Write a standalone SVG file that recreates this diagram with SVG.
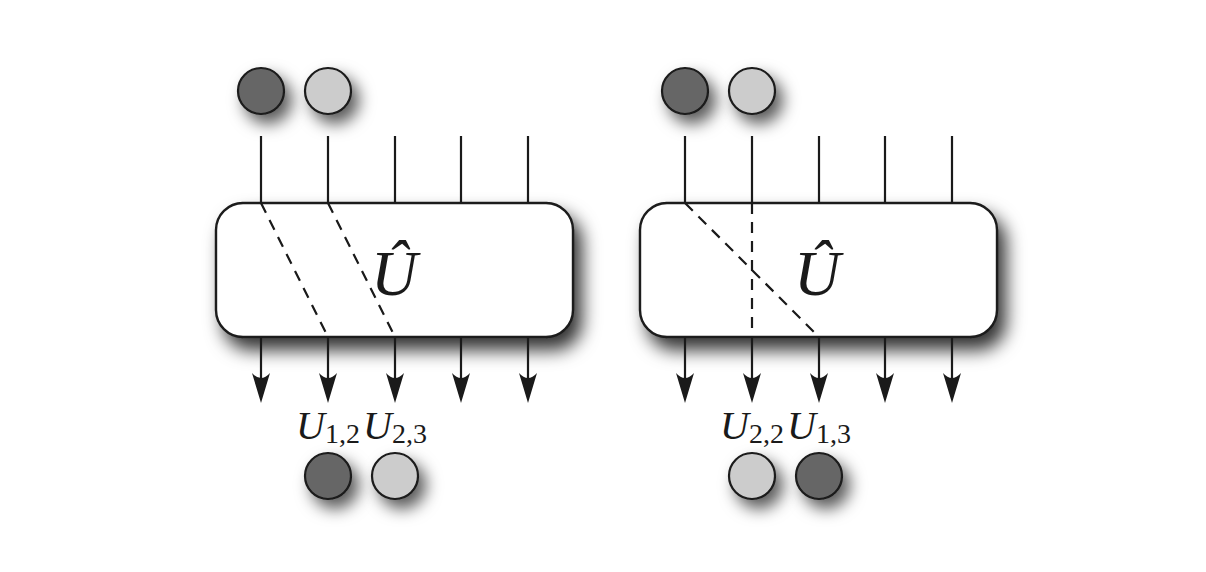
<svg xmlns="http://www.w3.org/2000/svg" width="1206" height="572" viewBox="0 0 1206 572">
<style>
.wire{stroke:#1a1a1a;stroke-width:2.2;fill:none}
.dash{stroke:#1a1a1a;stroke-width:2.2;fill:none;stroke-dasharray:11 8}
.box{fill:#ffffff;stroke:#1a1a1a;stroke-width:2.4;filter:url(#sh)}
.dark{fill:#666666;stroke:#1a1a1a;stroke-width:2.2;filter:url(#shc)}
.light{fill:#cccccc;stroke:#1a1a1a;stroke-width:2.2;filter:url(#shc)}
.big{font-family:"Liberation Serif","DejaVu Serif",serif;font-style:italic;font-size:64px;fill:#1a1a1a;text-anchor:middle}
.lab{font-family:"Liberation Serif","DejaVu Serif",serif;font-size:40px;fill:#1a1a1a;text-anchor:middle}
.lab .u{font-style:italic}
.lab .s{font-size:28px;font-style:normal}
</style>
<defs>
<filter id="sh" x="-20%" y="-40%" width="150%" height="190%">
<feDropShadow dx="8" dy="12" stdDeviation="9" flood-color="#000" flood-opacity="0.8"/>
</filter>
<filter id="shc" x="-80%" y="-80%" width="300%" height="300%">
<feDropShadow dx="7" dy="9" stdDeviation="8" flood-color="#000" flood-opacity="0.65"/>
</filter>
</defs>

<g id="left-box"><rect class="box" x="216" y="203" width="357" height="134" rx="27" ry="27"/>
<text class="big" x="394" y="295">Û</text></g>
<g id="right-box"><rect class="box" x="640" y="203" width="357" height="134" rx="27" ry="27"/>
<text class="big" x="817" y="295">Û</text></g>

<g id="connectors">
<path class="wire" d="M261,136V203M328,136V203M395,136V203M461,136V203M528,136V203"/>
<path class="wire" d="M685,136V203M752,136V203M819,136V203M885,136V203M952,136V203"/>
<path class="dash" d="M261,203L328,337M328,203L395,337"/>
<path class="dash" d="M685,203L819,337M752,203V337"/>
<g fill="#1a1a1a">
<path class="wire" d="M261,337V385M328,337V385M395,337V385M461,337V385M528,337V385M685,337V385M752,337V385M819,337V385M885,337V385M952,337V385"/>
<path d="M0,0 L-9,-30 Q0,-20 9,-30 Z" transform="translate(261,403)"/>
<path d="M0,0 L-9,-30 Q0,-20 9,-30 Z" transform="translate(328,403)"/>
<path d="M0,0 L-9,-30 Q0,-20 9,-30 Z" transform="translate(395,403)"/>
<path d="M0,0 L-9,-30 Q0,-20 9,-30 Z" transform="translate(461,403)"/>
<path d="M0,0 L-9,-30 Q0,-20 9,-30 Z" transform="translate(528,403)"/>
<path d="M0,0 L-9,-30 Q0,-20 9,-30 Z" transform="translate(685,403)"/>
<path d="M0,0 L-9,-30 Q0,-20 9,-30 Z" transform="translate(752,403)"/>
<path d="M0,0 L-9,-30 Q0,-20 9,-30 Z" transform="translate(819,403)"/>
<path d="M0,0 L-9,-30 Q0,-20 9,-30 Z" transform="translate(885,403)"/>
<path d="M0,0 L-9,-30 Q0,-20 9,-30 Z" transform="translate(952,403)"/>
</g>
</g>

<g id="left-top-dark"><circle class="dark" cx="261" cy="91" r="23"/></g>
<g id="left-top-light"><circle class="light" cx="328" cy="91" r="23"/></g>
<g id="right-top-dark"><circle class="dark" cx="685" cy="91" r="23"/></g>
<g id="right-top-light"><circle class="light" cx="752" cy="91" r="23"/></g>
<g id="left-bot-dark"><circle class="dark" cx="328" cy="476" r="23"/></g>
<g id="left-bot-light"><circle class="light" cx="395" cy="476" r="23"/></g>
<g id="right-bot-light"><circle class="light" cx="752" cy="476" r="23"/></g>
<g id="right-bot-dark"><circle class="dark" cx="819" cy="476" r="23"/></g>

<g id="labels">
<text class="lab" x="328" y="439"><tspan class="u">U</tspan><tspan class="s" dy="4">1,2</tspan></text>
<text class="lab" x="395" y="439"><tspan class="u">U</tspan><tspan class="s" dy="4">2,3</tspan></text>
<text class="lab" x="752" y="439"><tspan class="u">U</tspan><tspan class="s" dy="4">2,2</tspan></text>
<text class="lab" x="819" y="439"><tspan class="u">U</tspan><tspan class="s" dy="4">1,3</tspan></text>
</g>
</svg>
